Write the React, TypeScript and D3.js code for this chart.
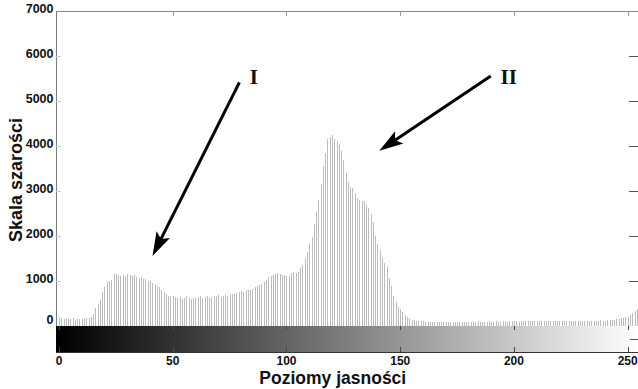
import React from "react";
import * as d3 from "d3";

// Gray levels 0..255
const levels: number[] = d3.range(256);
// Pixel counts per gray level
const counts: number[] = [
  190,170,150,160,140,150,160,130,150,140,150,150,170,160,200,260,
  380,470,560,740,850,970,1000,1020,1140,1150,1120,1110,1130,1100,1150,1120,
  1110,1120,1090,1060,1070,1040,1030,1000,990,950,920,890,860,800,750,700,
  660,650,650,640,620,630,600,610,650,620,600,610,610,640,650,620,
  640,650,620,640,660,650,680,640,660,670,650,700,690,710,720,740,
  760,750,780,790,800,820,860,880,910,920,960,1010,1070,1100,1130,1150,
  1170,1150,1120,1130,1100,1110,1160,1180,1170,1200,1290,1340,1500,1640,1820,1980,
  2250,2520,2800,3150,3550,3850,4150,4200,4230,4150,4100,4030,3880,3680,3400,3200,
  3090,3050,2950,2830,2800,2780,2760,2680,2620,2480,2300,2000,1820,1680,1500,1380,
  1300,1050,880,650,520,420,360,290,240,190,160,130,120,110,100,95,
  90,80,85,70,75,80,70,75,80,85,70,75,80,70,75,80,
  85,80,75,70,80,85,75,80,90,85,80,75,85,90,80,85,
  90,85,80,90,95,85,90,100,95,90,85,95,100,110,95,90,
  100,105,95,110,100,105,95,90,100,110,105,100,95,100,105,110,
  100,95,105,100,110,100,95,105,110,100,105,110,100,105,115,110,
  110,115,120,120,130,140,150,160,170,180,200,230,270,320,360,400,
];
const yTicks: number[] = [0, 1000, 2000, 3000, 4000, 5000, 6000, 7000];
const xTicks: number[] = [0, 50, 100, 150, 200, 250];
const annotationLabels: string[] = ["I", "II"];
// arrow start/end in data units [level, count]
const arrowStarts: [number, number][] = [[79.3, 5410], [189.8, 5553]];
const arrowTips: [number, number][] = [[41.1, 1547], [140.8, 3890]];
const labelPos: [number, number][] = [[85.6, 5375], [197.7, 5375]];

const xLabel = "Poziomy jasności";
const yLabel = "Skala szarości";

export default function App() {
  const W = 638, H = 389;
  const left = 56, top = 11, right = 640;
  const x = d3.scaleLinear().domain([0, 250]).range([59, 627.7]);
  const y = d3.scaleLinear().domain([0, 7000]).range([325.5, 11]);
  const cbTop = 326, cbBot = 352;
  const sans = "'Liberation Sans', Arial, Helvetica, sans-serif";
  const serif = "'Liberation Serif', 'Times New Roman', serif";

  const arrowHead = (sx: number, sy: number, tx: number, ty: number) => {
    const dx = tx - sx, dy = ty - sy;
    const len = Math.hypot(dx, dy);
    const ux = dx / len, uy = dy / len;
    const px = -uy, py = ux;
    const L = 24, Wd = 7.5, notch = 19;
    const bx = tx - ux * L, by = ty - uy * L;
    const nx = tx - ux * notch, ny = ty - uy * notch;
    return `M${tx},${ty}L${bx + px * Wd},${by + py * Wd}L${nx},${ny}L${bx - px * Wd},${by - py * Wd}Z`;
  };

  return (
    <svg width={W} height={H} style={{ position: "absolute", left: 0, top: 0, background: "#fff" }}>
      <defs>
        <linearGradient id="gray" gradientUnits="userSpaceOnUse" x1={x(0)} y1={0} x2={x(255)} y2={0}>
          <stop offset="0" stopColor="#000" />
          <stop offset="1" stopColor="#fff" />
        </linearGradient>
      </defs>
      <rect x={0} y={0} width={W} height={H} fill="#fff" />

      {/* stems */}
      <g shapeRendering="crispEdges">
        {levels.map((l, i) => (
          <line key={l} x1={Math.round(x(l)) + 0.5} x2={Math.round(x(l)) + 0.5}
            y1={y(0)} y2={y(counts[i])} stroke="#bcbcbc" strokeWidth={1} />
        ))}
      </g>

      {/* axes frame */}
      <g shapeRendering="crispEdges">
        <line x1={left + 0.5} x2={left + 0.5} y1={top} y2={cbBot} stroke="#7a7a7a" />
        <line x1={left} x2={right} y1={top + 0.5} y2={top + 0.5} stroke="#8a8a8a" />
        {xTicks.filter((t) => t > 0).map((t) => (
          <line key={"tt" + t} x1={Math.round(x(t)) + 0.5} x2={Math.round(x(t)) + 0.5} y1={top} y2={top + 5} stroke="#999" />
        ))}
        {yTicks.filter((t) => t > 0 && t < 7000).map((t) => (
          <line key={"rt" + t} x1={629} x2={right} y1={Math.round(y(t)) + 0.5} y2={Math.round(y(t)) + 0.5} stroke="#555" />
        ))}
        {yTicks.filter((t) => t > 0 && t < 7000).map((t) => (
          <line key={"lt" + t} x1={left} x2={left + 5} y1={Math.round(y(t)) + 0.5} y2={Math.round(y(t)) + 0.5} stroke="#ccc" />
        ))}
      </g>

      {/* colorbar */}
      <rect x={left} y={cbTop} width={right - left} height={cbBot - cbTop} fill="url(#gray)" />
      <g shapeRendering="crispEdges">
        <line x1={left} x2={right} y1={cbBot + 0.5} y2={cbBot + 0.5} stroke="#333" />
        {xTicks.map((t) => (
          <g key={"ct" + t}>
            <line x1={Math.round(x(t)) + 0.5} x2={Math.round(x(t)) + 0.5} y1={cbTop} y2={cbTop + 4} stroke="#444" />
            <line x1={Math.round(x(t)) + 0.5} x2={Math.round(x(t)) + 0.5} y1={cbBot - 5} y2={cbBot} stroke="#444" />
          </g>
        ))}
        <line x1={630} x2={right} y1={339.5} y2={339.5} stroke="#555" />
      </g>

      {/* tick labels */}
      <g fontFamily={sans} fontWeight="bold" fontSize={12.5} fill="#111">
        {yTicks.map((t) => (
          <text key={"yl" + t} x={53.5} y={y(t) - (t === 0 ? 5.5 : 2)} textAnchor="end" dominantBaseline="central">{t}</text>
        ))}
      </g>
      <g fontFamily={sans} fontWeight="bold" fontSize={12} fill="#111">
        {xTicks.map((t) => (
          <text key={"xl" + t} x={x(t)} y={365} textAnchor="middle">{t}</text>
        ))}
      </g>

      {/* axis titles */}
      <text x={332.8} y={384} textAnchor="middle" fontFamily={sans} fontWeight="bold" fontSize={17.5} fill="#111">{xLabel}</text>
      <text transform="translate(21.5,180) rotate(-90)" textAnchor="middle" fontFamily={sans} fontWeight="bold" fontSize={18} fill="#111">{yLabel}</text>

      {/* arrows */}
      {annotationLabels.map((lab, i) => {
        const sx = x(arrowStarts[i][0]), sy = y(arrowStarts[i][1]);
        const tx = x(arrowTips[i][0]), ty = y(arrowTips[i][1]);
        const dx = tx - sx, dy = ty - sy, len = Math.hypot(dx, dy);
        const ex = tx - (dx / len) * 18, ey = ty - (dy / len) * 18;
        return (
          <g key={lab}>
            <line x1={sx} y1={sy} x2={ex} y2={ey} stroke="#000" strokeWidth={3} />
            <path d={arrowHead(sx, sy, tx, ty)} fill="#000" />
            <text x={x(labelPos[i][0])} y={y(labelPos[i][1])} textAnchor="middle" fontFamily={serif} fontWeight="bold" fontSize={21} fill="#111">{lab}</text>
          </g>
        );
      })}
    </svg>
  );
}
